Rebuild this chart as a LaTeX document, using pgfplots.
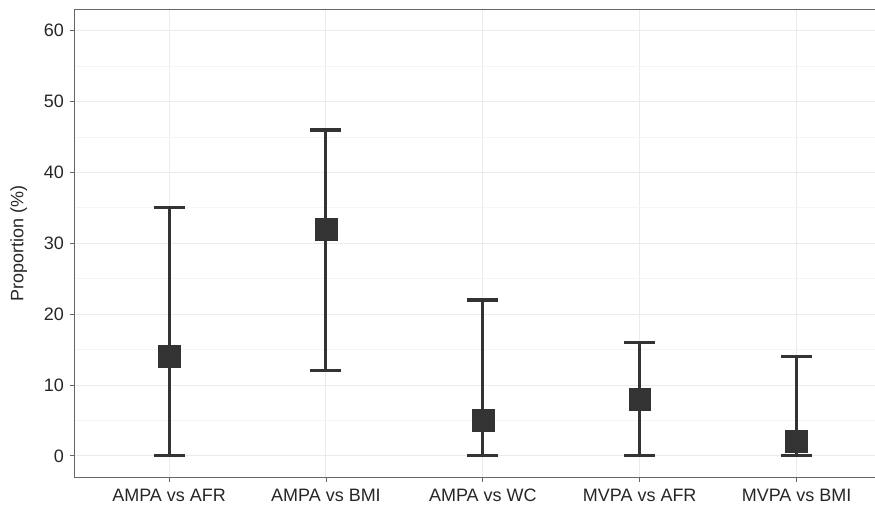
\documentclass[border=0pt]{standalone}
\usepackage{pgfplots}
\pgfplotsset{compat=1.18}
\usepackage{fontspec}
\setmainfont{Liberation Sans}
\definecolor{ink}{HTML}{333333}
\definecolor{gmaj}{HTML}{EBEBEB}
\definecolor{gmin}{HTML}{F5F5F5}
\begin{document}
\begin{tikzpicture}
\begin{axis}[
  scale only axis, width=800.7pt, height=468pt,
  xmin=0.4, xmax=5.5, ymin=-3, ymax=63,
  xtick={1,2,3,4,5},
  xticklabels={AMPA vs AFR,AMPA vs BMI,AMPA vs WC,MVPA vs AFR,MVPA vs BMI},
  ytick={0,10,...,60}, minor ytick={5,15,...,55},
  tick align=outside, major tick length=4.5pt, minor tick length=0pt,
  tick style={gray!80!black, line width=0.8pt},
  xtick pos=bottom, ytick pos=left,
  ymajorgrids, yminorgrids, xmajorgrids,
  major grid style={gmaj, line width=1pt},
  minor grid style={gmin, line width=0.8pt},
  axis line style={draw=none},
  tick label style={font=\fontsize{18}{21}\selectfont, text=black!85},
  /pgf/number format/assume math mode=true,
  ylabel={Proportion (\%)},
  ylabel style={font=\fontsize{18}{21}\selectfont, text=black!85, yshift=10pt},
  xticklabel style={yshift=-4pt},
  yticklabel style={xshift=-3pt},
]
\addplot[only marks, mark=square*, mark size=11pt,
  mark options={fill=ink, draw=ink},
  error bars/.cd, y dir=both, y explicit,
  error bar style={ink, line width=3pt},
  error mark options={ink, line width=3.2pt, mark size=15.5pt, rotate=90}]
  coordinates {
    (1,14) += (0,21) -= (0,14)
    (2,32) += (0,14) -= (0,20)
    (3,5)  += (0,17) -= (0,5)
    (4,8)  += (0,8)  -= (0,8)
    (5,2)  += (0,12) -= (0,2)
  };
\coordinate (bl) at (rel axis cs:0,0);
\coordinate (tr) at (rel axis cs:1,1);
\coordinate (tl) at (rel axis cs:0,1);
\coordinate (br) at (rel axis cs:1,0);
\end{axis}
\draw[gray!80!black, line width=1pt] (br) -- (bl) -- (tl) -- (tr);
\pgfresetboundingbox
\path ([xshift=-75pt,yshift=-29.5pt]bl) rectangle ([yshift=9.5pt]tr);
\end{tikzpicture}
\end{document}
